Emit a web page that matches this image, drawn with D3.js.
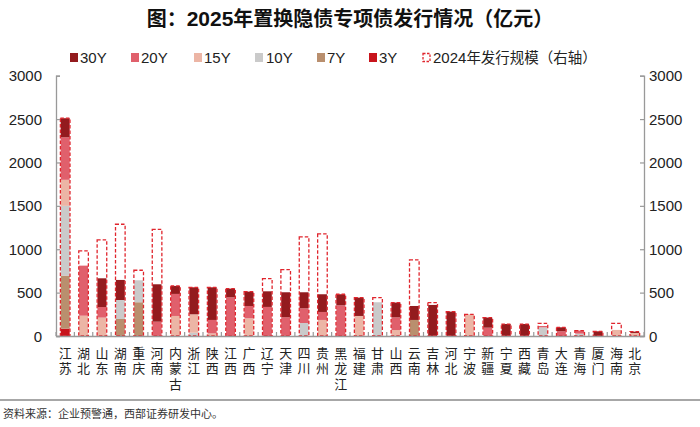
<!DOCTYPE html>
<html><head><meta charset="utf-8">
<script src="https://cdn.jsdelivr.net/npm/d3@7"></script>
<style>body{margin:0;background:#fff;}svg{display:block;}</style>
</head><body>
<svg id="chart" width="700" height="427"></svg>
<script>
const categories = ["江苏","湖北","山东","湖南","重庆","河南","内蒙古","浙江","陕西","江西","广西","辽宁","天津","四川","贵州","黑龙江","福建","甘肃","山西","云南","吉林","河北","宁波","新疆","宁夏","西藏","青岛","大连","青海","厦门","海南","北京"];
const s30 = [220,0,331,231,0,431,92,311,376,100,165,180,288,185,204,127,211,0,170,161,358,281,0,116,138,138,0,45,0,54,0,15];
const s20 = [490,577,122,0,0,165,254,0,155,446,142,335,216,169,92,354,0,0,146,0,0,0,0,96,0,0,15,55,35,0,0,0];
const s15 = [300,234,212,0,0,0,231,212,30,0,204,0,0,0,185,0,231,0,69,0,0,0,250,0,0,0,0,0,0,0,70,35];
const s10 = [804,0,0,219,253,0,0,38,0,0,0,0,0,150,0,0,0,389,0,0,0,0,0,0,0,0,100,0,27,0,0,0];
const s7  = [611,0,0,196,389,0,0,0,0,0,0,0,0,0,0,0,0,0,0,185,0,0,0,0,0,0,0,0,0,0,0,0];
const s3  = [85,0,0,0,0,0,0,0,0,0,0,0,0,0,0,0,0,0,0,0,0,0,0,0,0,0,0,0,0,0,0,0];
const y2024 = [2510,980,1107,1288,758,1230,577,561,561,546,511,661,765,1142,1177,481,442,442,385,877,385,281,250,212,138,138,146,100,62,54,146,50];
const yTicks = [0,500,1000,1500,2000,2500,3000];
const seriesNames = ["30Y","20Y","15Y","10Y","7Y","3Y"];
const seriesData = {"30Y":s30,"20Y":s20,"15Y":s15,"10Y":s10,"7Y":s7,"3Y":s3};
const colors = {"30Y":"#931b1e","20Y":"#e0606c","15Y":"#ecb5a5","10Y":"#cacaca","7Y":"#b98f6e","3Y":"#c8141c"};
const dashColor = "#e0252d";

const svg = d3.select("#chart");
const L = 56, R = 644, T = 75.7, B = 336;
const x = d3.scaleBand().domain(categories).range([L, R]).padding(0);
const y = d3.scaleLinear().domain([0,3000]).range([B, T]);
const y2 = d3.scaleLinear().domain([0,3000]).range([B, T]);
const font = "'Liberation Sans', Arial, sans-serif";
const cjk = "'Noto Sans CJK SC', sans-serif";

// Title
const title = svg.append("text").attr("x", 350).attr("y", 26).attr("text-anchor","middle")
  .style("font-family", cjk).style("font-size","20px").attr("fill","#111");
title.append("tspan").text("图：").style("font-weight","700");
title.append("tspan").text("2025").style("font-weight","700").style("font-family", font).style("font-size","21px");
title.append("tspan").text("年置换隐债专项债发行情况（亿元）").style("font-weight","700");

// Legend
const legendItems = [
  {name:"30Y", sx:70, tx:80}, {name:"20Y", sx:131, tx:141}, {name:"15Y", sx:194, tx:204},
  {name:"10Y", sx:255, tx:266}, {name:"7Y", sx:317, tx:327}, {name:"3Y", sx:369, tx:379}
];
const lg = svg.append("g");
legendItems.forEach(d => {
  lg.append("rect").attr("x", d.sx).attr("y", 53).attr("width", 8).attr("height", 9).attr("fill", colors[d.name]);
  lg.append("text").attr("x", d.tx).attr("y", 63).text(d.name)
    .style("font-family", font).style("font-size","15px").attr("fill","#222");
});
lg.append("rect").attr("x", 423).attr("y", 53.5).attr("width", 7).attr("height", 8).attr("fill","none")
  .attr("stroke", dashColor).attr("stroke-width",1.3).attr("stroke-dasharray","2.5,1.5");
const lt = lg.append("text").attr("x", 433).attr("y", 63).style("font-size","15px").attr("fill","#222");
lt.append("tspan").text("2024").style("font-family", font);
lt.append("tspan").text("年发行规模（右轴）").style("font-family", cjk).style("font-size","14.5px");

// Stacked bars
const order = ["3Y","7Y","10Y","15Y","20Y","30Y"];
const rows = categories.map((c,i) => { const o = {cat:c}; order.forEach(k => o[k] = seriesData[k][i]); return o; });
const stack = d3.stack().keys(order)(rows);
const bw = 9;
const gBars = svg.append("g");
stack.forEach(layer => {
  gBars.selectAll(null).data(layer).enter().append("rect")
    .attr("x", d => x(d.data.cat) + x.bandwidth()/2 - bw/2)
    .attr("width", bw)
    .attr("y", d => y(d[1]))
    .attr("height", d => Math.max(0, y(d[0]) - y(d[1])))
    .attr("fill", colors[layer.key]);
});

// 2024 dashed outline
svg.append("g").selectAll("rect").data(categories).enter().append("rect")
  .attr("x", d => x(d) + x.bandwidth()/2 - bw/2 - 0.3)
  .attr("width", bw + 0.6)
  .attr("y", (d,i) => y2(y2024[i]))
  .attr("height", (d,i) => B - y2(y2024[i]))
  .attr("fill","none").attr("stroke", dashColor).attr("stroke-width",1.3)
  .attr("stroke-dasharray","3.5,2");

// Axes
const axisColor = "#999";
const leftAxis = svg.append("g").attr("transform", `translate(${L},0)`)
  .call(d3.axisRight(y).tickValues(yTicks).tickSize(4).tickFormat(""));
const rightAxis = svg.append("g").attr("transform", `translate(${R},0)`)
  .call(d3.axisLeft(y2).tickValues(yTicks).tickSize(4).tickFormat(""));
[leftAxis, rightAxis].forEach(a => {
  a.select(".domain").attr("stroke", axisColor).attr("stroke-width",1.3);
  a.selectAll(".tick line").attr("stroke", axisColor).attr("stroke-width",1.2);
});
svg.append("g").selectAll("text").data(yTicks).enter().append("text")
  .attr("x", 42).attr("y", d => y(d) + 5.5).attr("text-anchor","end").text(d => d)
  .style("font-family", font).style("font-size","15px").attr("fill","#222");
svg.append("g").selectAll("text").data(yTicks).enter().append("text")
  .attr("x", 649).attr("y", d => y2(d) + 5.5).attr("text-anchor","start").text(d => d)
  .style("font-family", font).style("font-size","15px").attr("fill","#222");

// X axis
const xAxis = svg.append("g").attr("transform", `translate(0,${B})`)
  .call(d3.axisTop(x).tickSize(0).tickFormat(""));
xAxis.select(".domain").attr("stroke", axisColor).attr("stroke-width",1.3);
xAxis.selectAll(".tick").remove();
const bounds = categories.map(c => x(c)).concat([R]);
svg.append("g").selectAll("line").data(bounds).enter().append("line")
  .attr("x1", d => d).attr("x2", d => d).attr("y1", B).attr("y2", B - 4)
  .attr("stroke", axisColor).attr("stroke-width",1.2);

// X labels (vertical writing mode)
svg.append("g").selectAll("text").data(categories).enter().append("text")
  .attr("x", d => x(d) + x.bandwidth()/2).attr("y", 346.5)
  .style("writing-mode","vertical-rl").style("glyph-orientation-vertical","0")
  .style("letter-spacing","2.3px")
  .style("font-family", cjk).style("font-size","13px").attr("fill","#222")
  .text(d => d);

// Footer
svg.append("line").attr("x1",0).attr("x2",700).attr("y1",400).attr("y2",400)
  .attr("stroke","#8a8a8a").attr("stroke-width",1.5);
svg.append("text").attr("x",3).attr("y",418).text("资料来源：企业预警通，西部证券研发中心。")
  .style("font-family", cjk).style("font-size","11px").attr("fill","#333");
</script>
</body></html>
